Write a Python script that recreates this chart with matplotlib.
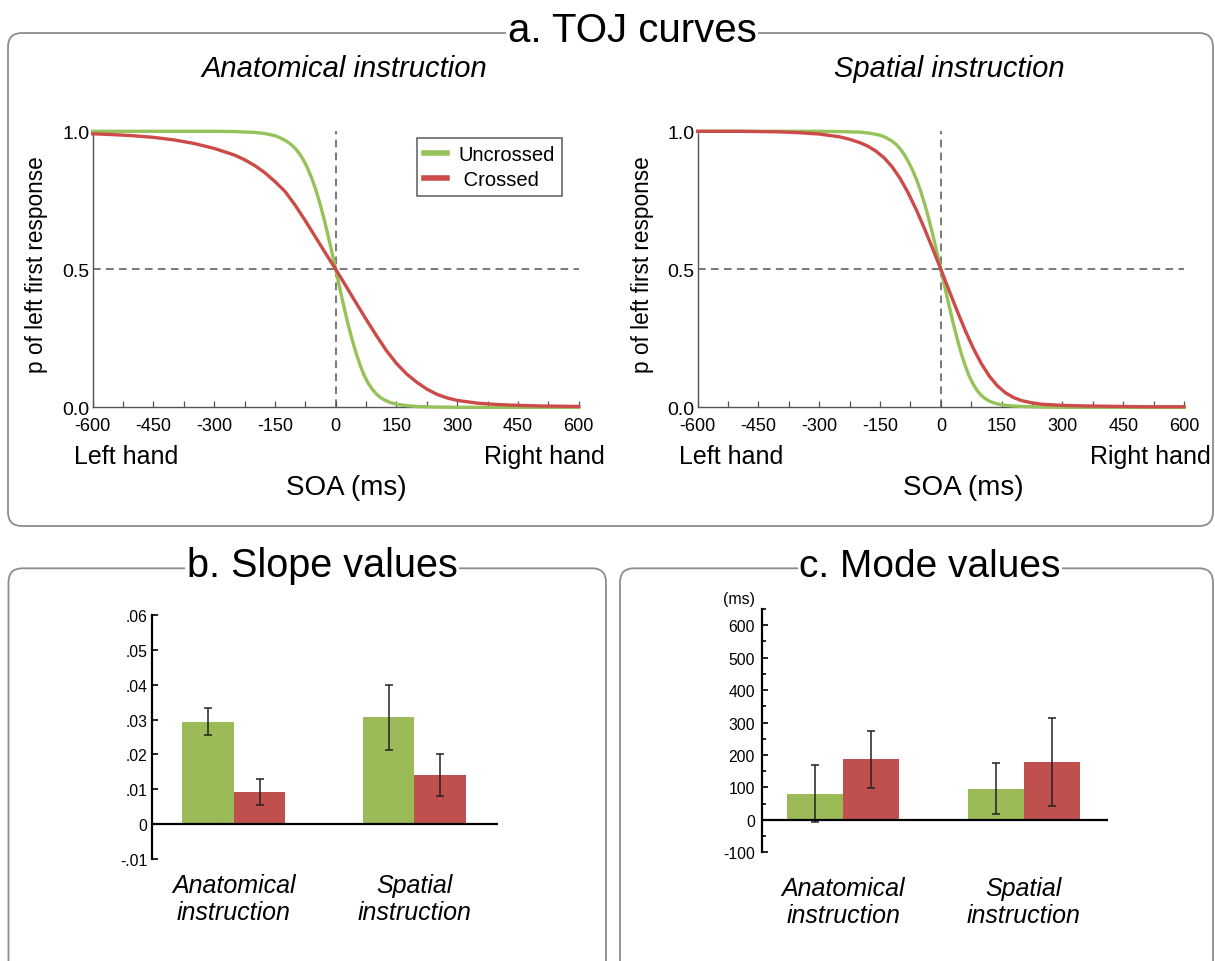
import matplotlib
matplotlib.use("Agg")
import matplotlib.pyplot as plt
from matplotlib.patches import FancyBboxPatch
from matplotlib.lines import Line2D

plt.rcParams['font.family'] = ['Liberation Sans', 'DejaVu Sans']
plt.rcParams['axes.unicode_minus'] = False

# ---- data ----
# a. TOJ curves, anatomical instruction
soa_anat_unc = [-600, -300, -250, -200, -175, -150, -135, -120, -110, -100, -90, -80, -70, -60, -50, -40,
                -30, -20, -10, 0, 10, 20, 30, 40, 50, 60, 70, 80, 90, 100, 110, 120, 135, 150, 175,
                200, 250, 300, 600]
p_anat_unc = [1.0, 1.0, 0.999, 0.996, 0.992, 0.984, 0.975, 0.963, 0.952, 0.938, 0.92, 0.897, 0.868, 0.833,
              0.792, 0.744, 0.69, 0.63, 0.566, 0.5, 0.432, 0.366, 0.304, 0.248, 0.198, 0.154, 0.117, 0.088,
              0.066, 0.049, 0.036, 0.027, 0.017, 0.011, 0.006, 0.003, 0.001, 0.0, 0.0]
soa_anat_cro = [-600, -550, -500, -450, -400, -350, -300, -250, -225, -200, -175, -150, -125, -100, -75,
                -50, -25, 0, 25, 50, 75, 100, 125, 150, 175, 200, 225, 250, 275, 300, 350, 400, 450,
                500, 550, 600]
p_anat_cro = [0.991, 0.988, 0.984, 0.978, 0.969, 0.956, 0.938, 0.914, 0.897, 0.876, 0.85, 0.818, 0.782,
              0.732, 0.676, 0.617, 0.558, 0.5, 0.44, 0.379, 0.319, 0.261, 0.206, 0.159, 0.121, 0.091,
              0.066, 0.047, 0.034, 0.025, 0.015, 0.010, 0.007, 0.005, 0.004, 0.003]

# a. TOJ curves, spatial instruction
soa_spat_unc = [-600, -300, -250, -200, -175, -150, -135, -120, -110, -100, -90, -80, -70, -60, -50, -40,
                -30, -20, -10, 0, 10, 20, 30, 40, 50, 60, 70, 80, 90, 100, 110, 120, 135, 150, 175,
                200, 250, 300, 600]
p_spat_unc = [1.0, 1.0, 0.999, 0.997, 0.993, 0.986, 0.977, 0.964, 0.952, 0.936, 0.915, 0.889, 0.86, 0.825,
              0.784, 0.737, 0.684, 0.626, 0.564, 0.5, 0.434, 0.37, 0.308, 0.25, 0.197, 0.151, 0.113, 0.083,
              0.06, 0.043, 0.031, 0.022, 0.014, 0.009, 0.005, 0.003, 0.001, 0.0, 0.0]
soa_spat_cro = [-600, -500, -450, -400, -350, -300, -250, -225, -200, -180, -160, -140, -120, -100, -80,
                -60, -40, -20, 0, 20, 40, 60, 80, 100, 120, 140, 160, 180, 200, 225, 250, 300, 350,
                400, 450, 500, 600]
p_spat_cro = [1.0, 1.0, 0.999, 0.998, 0.995, 0.99, 0.98, 0.971, 0.959, 0.946, 0.928, 0.904, 0.871, 0.828,
              0.775, 0.714, 0.646, 0.574, 0.5, 0.424, 0.35, 0.279, 0.214, 0.158, 0.112, 0.077, 0.052,
              0.035, 0.024, 0.016, 0.011, 0.007, 0.005, 0.004, 0.003, 0.002, 0.002]

groups = ['Anatomical\ninstruction', 'Spatial\ninstruction']

# b. slope values
slope_unc = [0.0294, 0.0306]
slope_unc_lo = [0.0256, 0.0214]
slope_unc_hi = [0.0333, 0.0400]
slope_cro = [0.0091, 0.0142]
slope_cro_lo = [0.0054, 0.0081]
slope_cro_hi = [0.0130, 0.0202]

# c. mode values (ms)
mode_unc = [80, 96]
mode_unc_lo = [-8, 17]
mode_unc_hi = [169, 174]
mode_cro = [187, 178]
mode_cro_lo = [97, 43]
mode_cro_hi = [275, 314]

GREEN_LINE = '#96C25A'
RED_LINE = '#CC4B48'
GREEN_BAR = '#9BBB59'
RED_BAR = '#C0504D'

W, H = 1215, 962
fig = plt.figure(figsize=(W / 100, H / 100), dpi=100)

# background layer in pixel coordinates for the panel frames and free text
bg = fig.add_axes([0, 0, 1, 1])
bg.set_xlim(0, W)
bg.set_ylim(H, 0)
bg.axis('off')


def rect(x0, y0, x1, y1):
    return [x0 / W, 1 - y1 / H, (x1 - x0) / W, (y1 - y0) / H]


for x0, y0, x1, y1 in [(8, 34, 1213, 527), (8.5, 569.3, 606, 995), (620, 569.3, 1213, 995)]:
    bg.add_patch(FancyBboxPatch((x0, y0), x1 - x0, y1 - y0,
                                boxstyle='round,pad=0,rounding_size=14',
                                fill=False, ec='#8c8c8c', lw=1.3, zorder=1))

title_box = dict(fc='white', ec='none', pad=1)
bg.text(632, 42, 'a. TOJ curves', fontsize=29, ha='center', va='baseline', bbox=title_box, zorder=3)
bg.text(322, 577, 'b. Slope values', fontsize=28.5, ha='center', va='baseline', bbox=title_box, zorder=3)
bg.text(930, 577, 'c. Mode values', fontsize=28, ha='center', va='baseline', bbox=title_box, zorder=3)


def toj_panel(px, subtitle, sub_x, soa_x, ylab_x, soa_u, p_u, soa_c, p_c, legend=False):
    x0, x1 = px
    ax = fig.add_axes(rect(x0, 132.3, x1, 408.3))
    ax.set_facecolor('none')
    ax.plot(soa_u, p_u, color=GREEN_LINE, lw=2.4, clip_on=False, zorder=3,
            solid_joinstyle='round')
    ax.plot(soa_c, p_c, color=RED_LINE, lw=2.4, clip_on=False, zorder=4,
            solid_joinstyle='round')
    ax.axhline(0.5, color='#555555', lw=1.1, ls=(0, (5, 3.5)), zorder=2)
    ax.axvline(0, color='#555555', lw=1.1, ls=(0, (5, 3.5)), zorder=2)
    ax.set_xlim(-600, 600)
    ax.set_ylim(0, 1)
    for s in ['top', 'right']:
        ax.spines[s].set_visible(False)
    for s in ['left', 'bottom']:
        ax.spines[s].set_color('#555555')
        ax.spines[s].set_linewidth(1.0)
    ax.set_xticks(range(-600, 601, 150))
    ax.set_xticks(range(-525, 600, 150), minor=True)
    ax.set_yticks([0, 0.5, 1.0])
    ax.set_yticklabels(['0.0', '0.5', '1.0'])
    ax.tick_params(axis='x', which='both', direction='in', length=4, width=0.9,
                   color='#555555', labelsize=13, pad=7)
    ax.tick_params(axis='y', length=0, labelsize=14, pad=2.5)
    bg.text(sub_x, 69, subtitle, fontsize=21, style='italic', ha='center', va='center')
    bg.text(x0 - 18.5, 457, 'Left hand', fontsize=18, ha='left', va='center')
    bg.text(x1 + 26.5, 457, 'Right hand', fontsize=18, ha='right', va='center')
    bg.text(soa_x, 488, 'SOA (ms)', fontsize=20, ha='center', va='center')
    bg.text(ylab_x, 265, 'p of left first response', fontsize=16.3, rotation=90,
            ha='center', va='center')
    if legend:
        handles = [Line2D([], [], color=GREEN_LINE, lw=4),
                   Line2D([], [], color=RED_LINE, lw=4)]
        leg = ax.legend(handles, ['Uncrossed', ' Crossed'], loc='upper left',
                        bbox_to_anchor=(417 / W, 1 - 138.6 / H), bbox_transform=fig.transFigure,
                        fontsize=14.5, frameon=True, fancybox=False, borderaxespad=0,
                        handlelength=1.15, handletextpad=0.55, borderpad=0.35, labelspacing=0.3)
        leg.get_frame().set_edgecolor('#333333')
        leg.get_frame().set_linewidth(1.1)
    return ax


toj_panel((92.7, 578.7), 'Anatomical instruction', 344.7, 346, 37,
          soa_anat_unc, p_anat_unc, soa_anat_cro, p_anat_cro, legend=True)
toj_panel((697.7, 1184), 'Spatial instruction', 949.5, 963.3, 643,
          soa_spat_unc, p_spat_unc, soa_spat_cro, p_spat_cro)


def bar_panel(px, xlim, width, ylim, unc, unc_lo, unc_hi, cro, cro_lo, cro_hi, label_pad):
    x0, y0, x1, y1 = px
    ax = fig.add_axes(rect(x0, y0, x1, y1))
    ax.set_facecolor('none')
    pos = [0, 1]
    g_x = [p - width / 2 for p in pos]
    r_x = [p + width / 2 for p in pos]
    ax.bar(g_x, unc, width, color=GREEN_BAR, zorder=2)
    ax.bar(r_x, cro, width, color=RED_BAR, zorder=2)
    ax.errorbar(g_x, unc, yerr=[[v - l for v, l in zip(unc, unc_lo)], [h - v for v, h in zip(unc, unc_hi)]],
                fmt='none', ecolor='#222222', elinewidth=1.1, capsize=2.6, capthick=1.1, zorder=3)
    ax.errorbar(r_x, cro, yerr=[[v - l for v, l in zip(cro, cro_lo)], [h - v for v, h in zip(cro, cro_hi)]],
                fmt='none', ecolor='#222222', elinewidth=1.1, capsize=2.6, capthick=1.1, zorder=3)
    ax.axhline(0, color='black', lw=1.6, zorder=4)
    ax.set_xlim(*xlim)
    ax.set_ylim(*ylim)
    for s in ['top', 'right', 'bottom']:
        ax.spines[s].set_visible(False)
    ax.spines['left'].set_linewidth(1.6)
    ax.set_xticks(pos)
    ax.set_xticklabels(groups, fontsize=18, style='italic', linespacing=1.17)
    ax.tick_params(axis='x', length=0, pad=label_pad)
    ax.tick_params(axis='y', which='both', direction='in', width=1.2, labelsize=11.3)
    ax.tick_params(axis='y', which='major', length=4)
    ax.tick_params(axis='y', which='minor', length=3)
    return ax


axb = bar_panel((152.3, 616, 498.3, 860), (-0.453, 1.466), 0.2856, (-0.01, 0.06),
                slope_unc, slope_unc_lo, slope_unc_hi, slope_cro, slope_cro_lo, slope_cro_hi, 10)
b_ticks = [-0.01, 0, 0.01, 0.02, 0.03, 0.04, 0.05, 0.06]
axb.set_yticks(b_ticks)
axb.set_yticklabels(['-.01', '0', '.01', '.02', '.03', '.04', '.05', '.06'])
axb.tick_params(axis='y', pad=3.3)

axc = bar_panel((761.7, 610, 1108.3, 853.3), (-0.452, 1.469), 0.31, (-100, 650),
                mode_unc, mode_unc_lo, mode_unc_hi, mode_cro, mode_cro_lo, mode_cro_hi, 17)
axc.set_yticks(range(-100, 601, 100))
axc.set_yticks(range(-50, 651, 100), minor=True)
axc.tick_params(axis='y', pad=4.8)
bg.text(739, 600, '(ms)', fontsize=11.4, ha='center', va='center')

fig.savefig('out.png', dpi=100)
